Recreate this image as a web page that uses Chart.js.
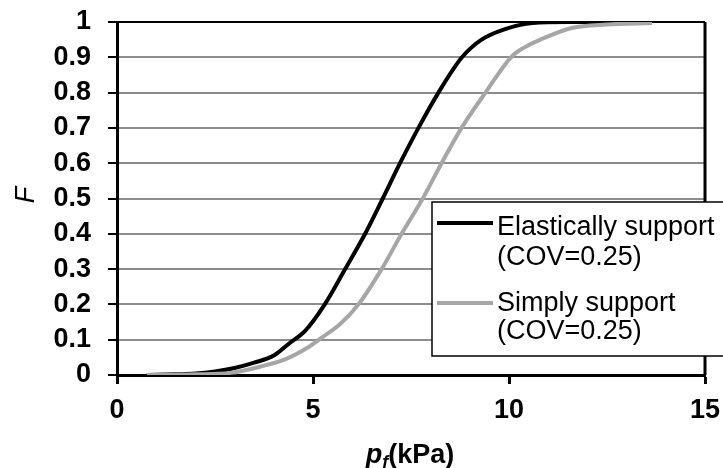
<!DOCTYPE html>
<html>
<head>
<meta charset="utf-8">
<script src="https://cdn.jsdelivr.net/npm/chart.js@4"></script>
<style>
  body { margin: 0; background: #fff; }
  #box { width: 723px; height: 468px; }
</style>
</head>
<body>
<div id="box"><canvas id="mycanvas" width="723" height="468"></canvas></div>
<script>
// data
var seriesNames = ["Elastically support", "Simply support"];
var seriesNotes = ["(COV=0.25)", "(COV=0.25)"];
var pElastic = [0.76, 1.5, 2.0, 2.5, 3.0, 3.5, 4.0, 4.4, 4.8, 5.3, 5.82, 6.33, 6.78, 7.22, 7.69, 8.2, 8.8, 9.3, 9.9, 10.6, 11.5, 12.5];
var fElastic = [0, 0.002, 0.004, 0.01, 0.02, 0.035, 0.055, 0.09, 0.125, 0.2, 0.3, 0.4, 0.5, 0.6, 0.7, 0.8, 0.9, 0.95, 0.98, 0.997, 1.0, 1.0];
var pSimple = [0.76, 2.0, 2.9, 3.7, 4.3, 4.9, 5.15, 5.7, 6.16, 6.75, 7.26, 7.8, 8.28, 8.79, 9.4, 10.05, 10.36, 10.8, 11.6, 12.5, 13.65];
var fSimple = [0, 0.002, 0.006, 0.025, 0.045, 0.08, 0.1, 0.145, 0.2, 0.3, 0.4, 0.5, 0.6, 0.7, 0.8, 0.9, 0.926, 0.95, 0.983, 0.993, 0.997];
var xTickLabels = ["0", "5", "10", "15"];
var yTickLabels = ["0", "0.1", "0.2", "0.3", "0.4", "0.5", "0.6", "0.7", "0.8", "0.9", "1"];

function toPoints(xs, ys) {
	var pts = [];
	for (var i in xs) {
		pts.push({x: xs[i], y: ys[i]});
	}
	return pts;
}

var lineColors = ["#000000", "#a6a6a6"];

// keep label overhang from moving the plot area
function noPad(scale) {
	scale.paddingTop = 0;
	scale.paddingBottom = 0;
	scale.paddingLeft = 0;
	scale.paddingRight = 0;
}

// axis titles, frame and the legend box are drawn here
var extras = {
	id: "extras",
	beforeDatasetsDraw: function(chart) {
		var ctx = chart.ctx, a = chart.chartArea;
		ctx.save();
		ctx.strokeStyle = "#000";
		ctx.lineWidth = 3;
		ctx.beginPath();
		ctx.moveTo(a.right, a.top);
		ctx.lineTo(a.right, a.bottom);
		ctx.stroke();
		ctx.restore();
	},
	afterDraw: function(chart) {
		var ctx = chart.ctx;
		ctx.save();

		// x title: p_f(kPa)
		var big = "bold italic 27px 'Liberation Sans', Arial, sans-serif";
		var sub = "bold italic 18px 'Liberation Sans', Arial, sans-serif";
		var rest = "bold 27px 'Liberation Sans', Arial, sans-serif";
		ctx.fillStyle = "#000";
		ctx.textBaseline = "alphabetic";
		ctx.textAlign = "left";
		ctx.font = big; var w1 = ctx.measureText("p").width;
		ctx.font = sub; var w2 = ctx.measureText("f").width;
		ctx.font = rest; var w3 = ctx.measureText("(kPa)").width;
		var x0 = 410 - (w1 + w2 + w3) / 2;
		var base = 463;
		ctx.font = big; ctx.fillText("p", x0, base);
		ctx.font = sub; ctx.fillText("f", x0 + w1, base + 5);
		ctx.font = rest; ctx.fillText("(kPa)", x0 + w1 + w2, base);

		// y title: F
		ctx.save();
		ctx.translate(26, 195);
		ctx.rotate(-Math.PI / 2);
		ctx.textAlign = "center";
		ctx.textBaseline = "middle";
		ctx.font = "italic 27px 'Liberation Sans', Arial, sans-serif";
		ctx.fillText("F", 0, 0);
		ctx.restore();

		// legend (open on the right, as in the reference)
		ctx.fillStyle = "#fff";
		ctx.fillRect(432, 202, 300, 154);
		ctx.strokeStyle = "#000";
		ctx.lineWidth = 1.5;
		ctx.beginPath();
		ctx.moveTo(723, 202);
		ctx.lineTo(432, 202);
		ctx.lineTo(432, 356);
		ctx.lineTo(723, 356);
		ctx.stroke();
		var rows = [{line: 223, b1: 235, b2: 265}, {line: 303, b1: 311, b2: 339}];
		ctx.font = "27px 'Liberation Sans', Arial, sans-serif";
		ctx.textAlign = "left";
		ctx.textBaseline = "alphabetic";
		for (var i = 0; i < rows.length; i++) {
			ctx.strokeStyle = lineColors[i];
			ctx.lineWidth = 4;
			ctx.beginPath();
			ctx.moveTo(437, rows[i].line);
			ctx.lineTo(493, rows[i].line);
			ctx.stroke();
			ctx.fillStyle = "#000";
			ctx.fillText(seriesNames[i], 497, rows[i].b1);
			ctx.fillText(seriesNotes[i], 497, rows[i].b2);
		}
		ctx.restore();
	}
};

var tickFont = {family: "'Liberation Sans', Arial, sans-serif", size: 27, weight: "bold"};

var ctx = document.getElementById("mycanvas");
var graph = new Chart(ctx, {
	type: "line",
	data: {
		datasets: [
			{
				label: seriesNames[0],
				data: toPoints(pElastic, fElastic),
				borderColor: lineColors[0],
				borderWidth: 4,
				pointRadius: 0,
				fill: false,
				cubicInterpolationMode: "monotone",
				order: 1
			},
			{
				label: seriesNames[1],
				data: toPoints(pSimple, fSimple),
				borderColor: lineColors[1],
				borderWidth: 4,
				pointRadius: 0,
				fill: false,
				cubicInterpolationMode: "monotone",
				order: 0
			}
		]
	},
	options: {
		responsive: false,
		animation: false,
		layout: {padding: {left: 0, top: 22, right: 18, bottom: 0}},
		plugins: {legend: {display: false}, tooltip: {enabled: false}},
		scales: {
			x: {
				type: "linear",
				min: 0,
				max: 15,
				afterFit: function(scale) { scale.height = 93; noPad(scale); },
				afterBuildTicks: function(scale) {
					scale.ticks = xTickLabels.map(function(t) { return {value: Number(t)}; });
				},
				ticks: {
					color: "#000",
					font: tickFont,
					padding: 10,
					maxRotation: 0,
					autoSkip: false,
					callback: function(v, i) { return xTickLabels[i]; }
				},
				grid: {drawOnChartArea: false, tickLength: 9, tickColor: "#000", tickWidth: 3},
				border: {color: "#000", width: 3}
			},
			y: {
				type: "linear",
				min: 0,
				max: 1,
				afterFit: function(scale) { scale.width = 117; noPad(scale); },
				afterBuildTicks: function(scale) {
					scale.ticks = yTickLabels.map(function(t) { return {value: Number(t)}; });
				},
				ticks: {
					color: "#000",
					font: tickFont,
					padding: 17,
					autoSkip: false,
					callback: function(v, i) { return yTickLabels[i]; }
				},
				grid: {
					color: function(c) { return c.tick && c.tick.value === 1 ? "#000" : "#8c8c8c"; },
					lineWidth: 2,
					tickLength: 9,
					tickColor: "#000",
					tickWidth: 2
				},
				border: {color: "#000", width: 3}
			}
		}
	},
	plugins: [extras]
});
</script>
</body>
</html>
